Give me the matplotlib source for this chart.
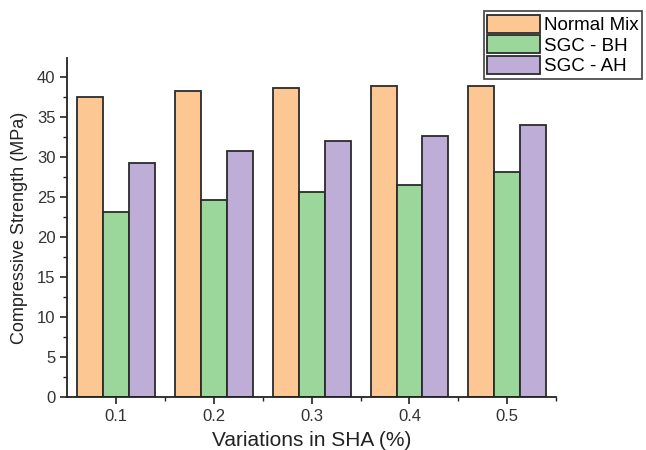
import numpy as np
import matplotlib.pyplot as plt

plt.rcParams['font.family'] = ['Liberation Sans', 'DejaVu Sans']

# Data
sha = [0.1, 0.2, 0.3, 0.4, 0.5]
normal_mix = [37.5, 38.3, 38.6, 38.9, 38.9]
sgc_bh = [23.1, 24.6, 25.7, 26.5, 28.2]
sgc_ah = [29.3, 30.8, 32.0, 32.7, 34.0]

series = ['Normal Mix', 'SGC - BH', 'SGC - AH']
colors = ['#FDC794', '#9BD79B', '#BEADD6']

fig = plt.figure(figsize=(6.46, 4.5), dpi=100)
ax = fig.add_axes([0.104, 0.118, 0.757, 0.753])

w = 0.0265
x = np.array(sha)
bars = []
for i, (vals, c, lab) in enumerate(zip([normal_mix, sgc_bh, sgc_ah], colors, series)):
  b = ax.bar(x + (i - 1) * w, vals, width=w, color=c, edgecolor='#2b2b2b',
             linewidth=1.3, label=lab, zorder=2)
  bars.append(b)

ax.set_xlim(0.05, 0.55)
ax.set_ylim(0, 42.4)
ax.set_xticks(sha)
ax.set_xticklabels([str(v) for v in sha])
ax.set_xticks([0.15, 0.25, 0.35, 0.45, 0.55], minor=True)
ax.set_yticks(range(0, 41, 5))
ax.set_yticks(np.arange(2.5, 42.5, 5), minor=True)

for s in ['top', 'right']:
  ax.spines[s].set_visible(False)
for s in ['left', 'bottom']:
  ax.spines[s].set_linewidth(1.3)
  ax.spines[s].set_color('#222222')

ax.tick_params(which='major', direction='out', length=5, width=1.2,
               labelsize=12, labelcolor='#333333', color='#222222')
ax.tick_params(which='minor', direction='out', length=3, width=1.0, color='#222222')

ax.set_xlabel('Variations in SHA (%)', fontsize=15, color='#222222', labelpad=5)
ax.set_ylabel('Compressive Strength (MPa)', fontsize=13, color='#222222', labelpad=6)

leg = fig.legend(handles=bars, labels=series, loc='upper right',
                 bbox_to_anchor=(0.994, 0.975), fontsize=13.5, frameon=True,
                 fancybox=False, edgecolor='#222222', handlelength=2.8,
                 handleheight=1.1, handletextpad=0.2, labelspacing=0.05,
                 borderpad=0.2, borderaxespad=0)
leg.get_frame().set_linewidth(1.3)

fig.savefig('out.png', dpi=100)
